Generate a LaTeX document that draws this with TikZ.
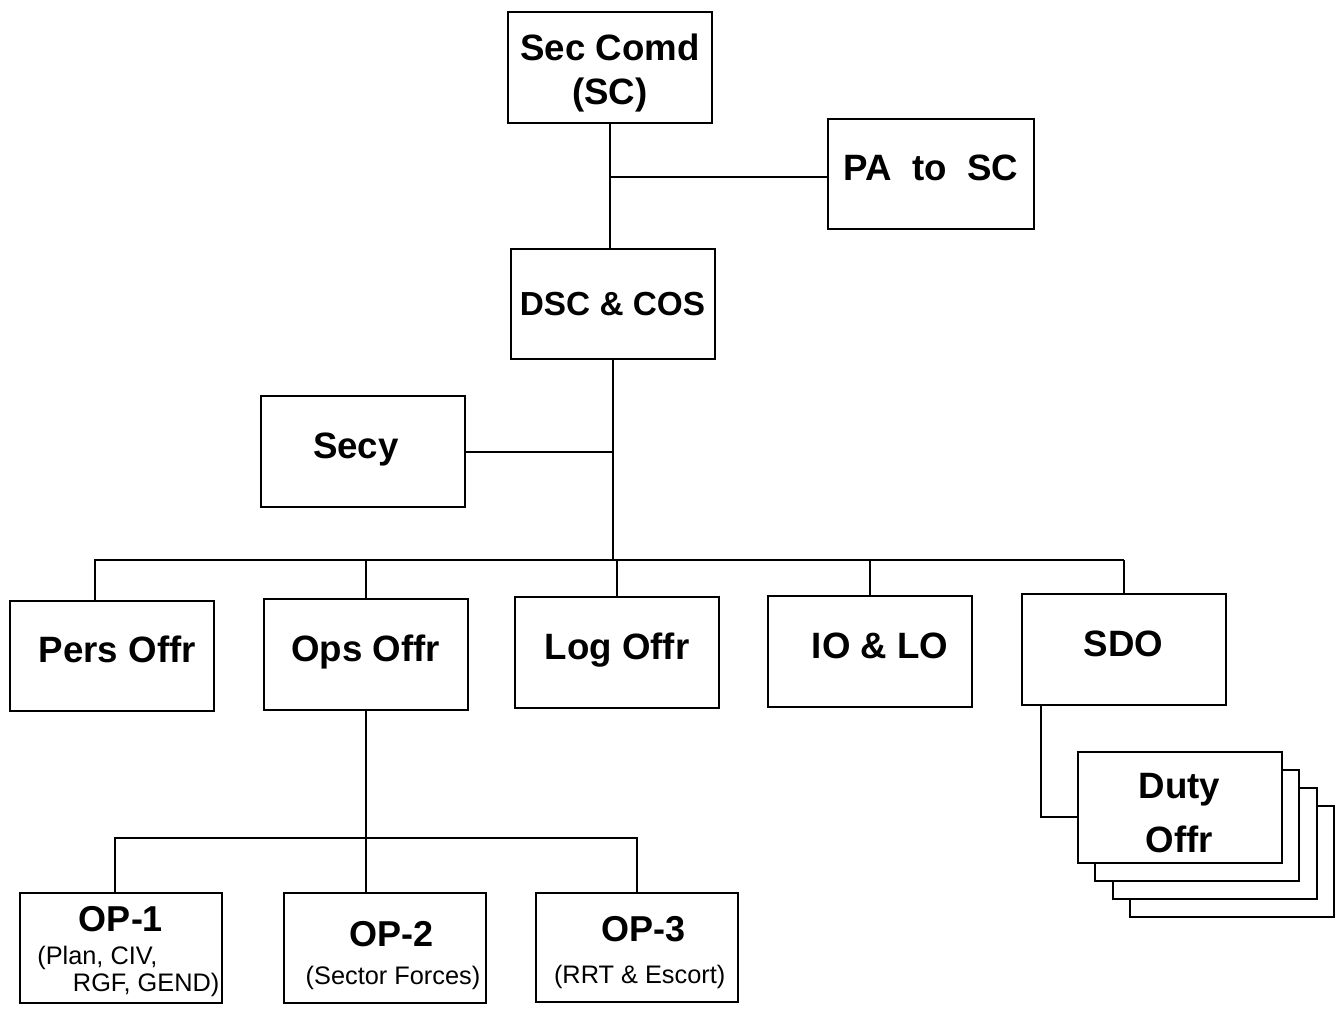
\documentclass[tikz,border=0pt]{standalone}
\usepackage{fontspec}
\setmainfont{Liberation Sans}
\usetikzlibrary{positioning}

\tikzset{every picture/.style={line width=1.5pt}}
\tikzset{
  unit/.style={draw, rectangle, fill=white, minimum width=153pt, minimum height=83pt, inner sep=2pt, align=center, font=\bfseries\fontsize{27.5}{33}\selectfont},
  oneline/.style={text height=19pt, text depth=9pt},
  optitle/.style={inner sep=0pt, font=\bfseries\fontsize{27}{33}\selectfont},
  opsub/.style={inner sep=0pt, font=\fontsize{19}{23}\selectfont}
}

\begin{document}
\begin{tikzpicture}[x=0.75pt,y=0.75pt,yscale=-1,xscale=1]
\useasboundingbox (0,0) rectangle (1342,1010);

%Boxes: command and staff
\node[unit] (sc) at (610,67.5) {\rule{0pt}{27.5pt}Sec Comd\\(SC)};
\node[unit, oneline, minimum width=154.5pt] (pa) at (931,174) {PA\ \ to\ \ SC};
\node[unit, font=\bfseries\fontsize{25}{30}\selectfont] (dsc) at (612.5,304) {DSC \& COS};
\node[unit, oneline] (secy) at (362.5,451.5) {Secy\hspace*{10pt}};

%Boxes: officers
\node[unit, oneline] (pers) at (112,656) {\hspace*{8pt}Pers Offr};
\node[unit, oneline] (ops) at (365.5,654.5) {Ops Offr};
\node[unit, oneline] (log) at (617,652.5) {Log Offr};
\node[unit, oneline] (io) at (869.5,651.5) {\hspace*{16pt}IO \& LO};
\node[unit, oneline] (sdo) at (1123.5,649.5) {SDO};

%Boxes: duty officers (stacked)
\foreach \k in {3,2,1}
  \node[unit] (duty\k) at ({1179.5+17.5*\k},{807.5+18*\k}) {};
\node[unit] (duty) at (1179.5,807.5) {\rule{0pt}{27.5pt}Duty\\[7pt]Offr};

%Boxes: ops sections
\node[unit, minimum width=151.5pt, minimum height=82.5pt] (op1) at (121,948) {};
\node[unit, minimum width=151.5pt, minimum height=82.5pt] (op2) at (385,948) {};
\node[unit, minimum width=151.5pt, minimum height=82pt] (op3) at (637,947.5) {};

% Text Node
\node[optitle] (op1t) at ([yshift=20.25pt]op1.north) {OP-1};
\node[opsub, anchor=west] (op1a) at ([xshift=13pt,yshift=7.5pt]op1.west) {(Plan, CIV,};
\node[opsub, anchor=east] (op1b) at ([xshift=-2pt,yshift=27.75pt]op1.east) {RGF, GEND)};
% Text Node
\node[optitle] (op2t) at ([xshift=5pt,yshift=31.5pt]op2.north) {OP-2};
\node[opsub] (op2a) at ([xshift=6pt,yshift=64.5pt]op2.north) {(Sector Forces)};
% Text Node
\node[optitle] (op3t) at ([xshift=5pt,yshift=27.75pt]op3.north) {OP-3};
\node[opsub] (op3a) at ([xshift=2pt,yshift=64pt]op3.north) {(RRT \& Escort)};

%Straight Lines: trunk
\draw (sc.south) -- (sc.south |- dsc.north);
\draw ([yshift=2.25pt]sc.south |- pa.west) -- ([yshift=2.25pt]pa.west);
\coordinate (busL) at (95,560);
\coordinate (busR) at (1123.5,560);
\draw (dsc.south) -- (dsc.south |- busL);
\draw (secy.east) -- (secy.east -| dsc.south);

%Straight Lines: officers bus
\draw (busL |- pers.north) -- (busL) -- (busR);
\foreach \n in {ops,log,io,sdo}
  \draw (\n.north |- busL) -- (\n.north);

%Straight Lines: ops sections bus
\coordinate (bus2L) at (115,838);
\draw (ops.south) -- (ops.south |- op2.north);
\draw (bus2L |- op1.north) -- (bus2L) -| (op3.north);

%Straight Lines: SDO to duty officers
\draw ([xshift=15pt]sdo.south west) |- ([yshift=7pt]duty.west);

\end{tikzpicture}
\end{document}
